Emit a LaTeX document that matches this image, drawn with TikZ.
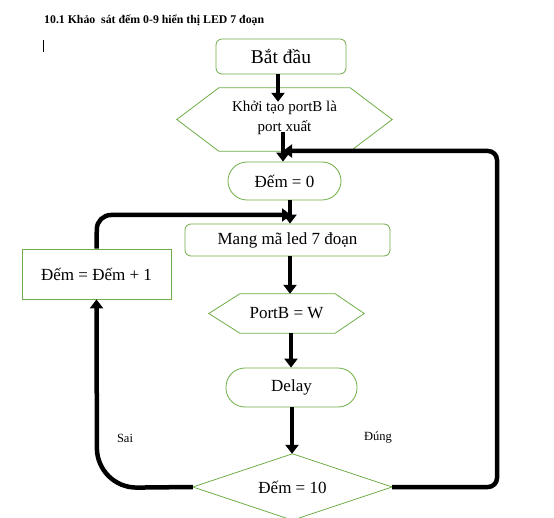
\documentclass[tikz,border=0pt]{standalone}
\usepackage{fontspec}
\setmainfont{Liberation Serif}
\usetikzlibrary{arrows.meta}
\definecolor{grn}{RGB}{112,173,71}
\begin{document}
\begin{tikzpicture}[x=1pt,y=-1pt,
  shapeline/.style={draw=grn, line width=0.8pt},
  rbox/.style={shapeline, rounded corners=6pt, inner sep=0pt, font=\fontsize{17}{19}\selectfont},
  pill/.style={shapeline, rounded corners=19pt, inner sep=0pt, font=\fontsize{17}{19}\selectfont},
  sbox/.style={shapeline, inner sep=0pt, font=\fontsize{17}{19}\selectfont},
  ghost/.style={inner sep=0pt, font=\fontsize{17}{19}\selectfont},
  flow/.style={line width=4.5pt, -{Triangle[width=13pt,length=9pt]}},
  loopline/.style={line width=4.5pt, rounded corners=9pt, -{Triangle[width=13pt,length=9pt]}},
  lbl/.style={font=\fontsize{12.5}{14}\selectfont}
]
\useasboundingbox (0,0) rectangle (554,518);
\fill[white] (0,0) rectangle (554,518);

% title and cursor
\node[anchor=west, font=\bfseries\fontsize{11.8}{13}\selectfont, inner sep=0pt] (title) at (44,20) {10.1 Khảo\ \ sát đếm 0-9 hiển thị LED 7 đoạn};
\coordinate (cur1) at (43,40);
\coordinate (cur2) at (43,52);
\draw[line width=0.8pt] (cur1) -- (cur2);

% nodes
\node[rbox, minimum width=130pt, minimum height=35pt, font=\fontsize{19.5}{21}\selectfont] (start) at (281,56.5) {Bắt đầu};
\node[ghost, minimum width=215pt, minimum height=63pt, align=center, font=\fontsize{15}{20}\selectfont] (hex1) at (284.5,117.5) {Khởi tạo portB là\\port xuất};
\path[shapeline] ([yshift=-2pt]hex1.west) -- ([xshift=42pt,yshift=-2pt]hex1.north west) -- ([xshift=-42pt,yshift=-2pt]hex1.north east) -- ([yshift=-2pt]hex1.east) -- ([xshift=-42pt,yshift=-2pt]hex1.south east) -- ([xshift=42pt,yshift=-2pt]hex1.south west) -- cycle;
\node[pill, minimum width=113pt, minimum height=38pt] (cnt0) at (284.5,181) {Đếm = 0};
\node[rbox, minimum width=205pt, minimum height=32pt] (mang) at (287.5,240) {Mang mã led 7 đoạn};
\node[sbox, minimum width=149pt, minimum height=50pt] (inc) at (96.5,274) {Đếm = Đếm + 1};
\node[ghost, minimum width=155pt, minimum height=39pt] (portb) at (286.5,313.5) {PortB = W};
\draw[shapeline] (portb.west) -- ([xshift=31pt]portb.north west) -- ([xshift=-29pt]portb.north east) -- (portb.east) -- ([xshift=-29pt]portb.south east) -- ([xshift=31pt]portb.south west) -- cycle;
\node[pill, minimum width=131pt, minimum height=39pt] (delay) at (291.5,387.5) {Delay};
\node[ghost, minimum width=199pt, minimum height=66pt] (dec) at (292.5,487) {Đếm = 10};
\draw[shapeline] (dec.west) -- (dec.north) -- (dec.east) -- (dec.south) -- cycle;

% labels
\node[lbl] (sai) at (125,438) {Sai};
\node[lbl] (dung) at (378,438) {Đúng};

% connectors
\draw[flow] ([xshift=-3pt]start.south) -- ([xshift=-3pt,yshift=-16pt]start.south |- hex1.north);
\draw[flow] ([xshift=-1.5pt,yshift=17pt]hex1.south) -- ([xshift=-1.5pt]cnt0.north);
\draw[flow] ([xshift=5.5pt]cnt0.south) -- ([xshift=5.5pt]cnt0.south |- mang.north);
\draw[flow] ([xshift=2.5pt]mang.south) -- ([xshift=2.5pt]mang.south |- portb.north);
\draw[flow] ([xshift=4.5pt]portb.south) -- ([xshift=4.5pt]portb.south |- delay.north);
\draw[flow] ([xshift=0.5pt]delay.south) -- ([xshift=0.5pt]delay.south |- dec.north);

\coordinate (r1) at (497,487);
\coordinate (r2) at (497,151);
\coordinate (r3) at (283,151);
\draw[loopline] (dec.east) -- (r1) -- (r2) -- (r3);

\coordinate (l1) at (97,215);
\coordinate (l2) at (291,215);
\draw[loopline, rounded corners=14pt] (inc.north) -- (l1) -- (l2);

\coordinate (b1) at (97,488);
\draw[line width=4.5pt, rounded corners=40pt, -{Triangle[width=13pt,length=9pt]}] (dec.west) -- (b1) -- (inc.south);
\end{tikzpicture}
\end{document}
